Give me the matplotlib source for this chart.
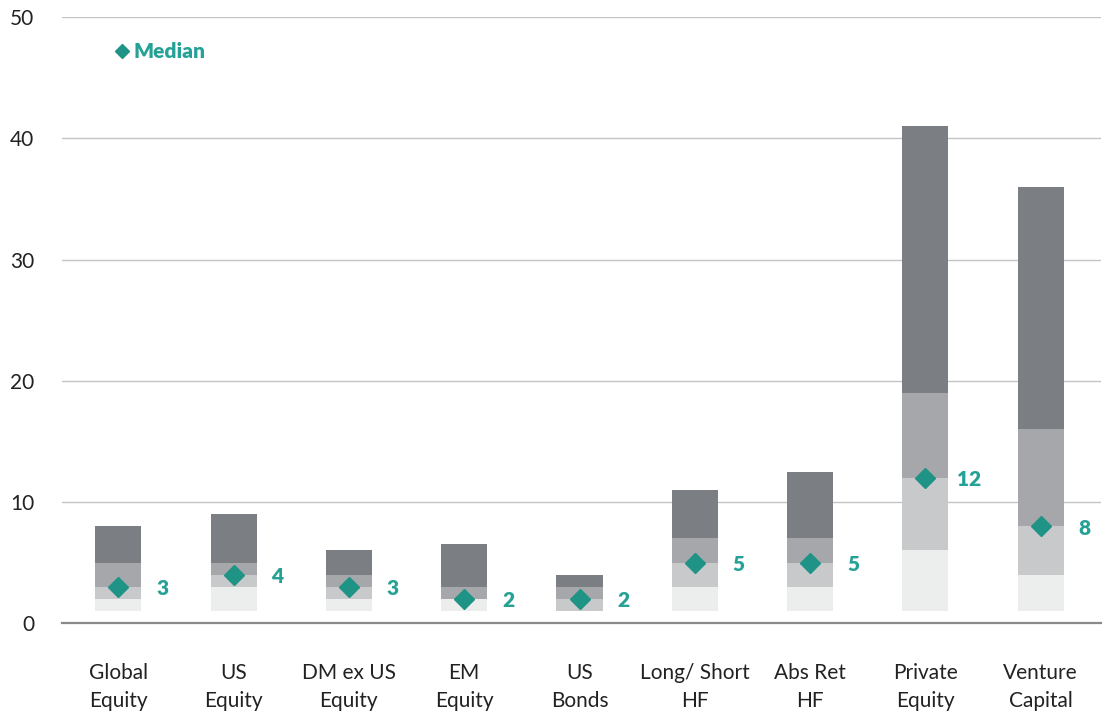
import numpy as np
import matplotlib.pyplot as plt

plt.rcParams['font.family'] = ['Lato', 'DejaVu Sans']

categories = ["Global\nEquity", "US\nEquity", "DM ex US\nEquity", "EM\nEquity", "US\nBonds",
              "Long/ Short\nHF", "Abs Ret\nHF", "Private\nEquity", "Venture\nCapital"]
low = [1, 1, 1, 1, 1, 1, 1, 1, 1]
p25 = [2, 3, 2, 2, 1, 3, 3, 6, 4]
median = [3, 4, 3, 2, 2, 5, 5, 12, 8]
p75 = [5, 5, 4, 3, 3, 7, 7, 19, 16]
high = [8, 9, 6, 6.5, 4, 11, 12.5, 41, 36]

teal = "#1f9385"
teal_text = "#26a196"
seg_colors = ["#eceeed", "#c8c9cb", "#a6a7aa", "#7b7e82"]

fig = plt.figure(figsize=(11.05, 7.13), dpi=100)
ax = fig.add_axes([0.056, 0.126, 0.94, 0.85])

x = np.arange(len(categories))
levels = [low, p25, median, p75, high]
for k in range(4):
    b = np.array(levels[k], dtype=float)
    t = np.array(levels[k + 1], dtype=float)
    ax.bar(x, t - b, bottom=b, width=0.4, color=seg_colors[k], zorder=2)

ax.plot(x, median, linestyle="none", marker="D", markersize=10, color=teal, zorder=3)
for xi, m in zip(x, median):
    ax.text(xi + 0.38, m - 0.15, str(m), color=teal_text, fontsize=15, fontweight="heavy",
            va="center", ha="center")

# legend
ax.plot([0.03], [47.2], linestyle="none", marker="D", markersize=7, color=teal,
        clip_on=False)
ax.text(0.13, 47.2, "Median", color=teal_text, fontsize=15, fontweight="heavy",
        va="center", ha="left")

ax.set_xlim(-0.49, 8.52)
ax.set_ylim(0, 50)
ax.set_yticks([0, 10, 20, 30, 40, 50])
ax.set_xticks(x)
ax.set_xticklabels(categories, fontsize=15, linespacing=1.5, color="#222222")
ax.tick_params(axis="y", length=0, pad=20, labelsize=15, labelcolor="#222222")
ax.tick_params(axis="x", length=0, pad=29)
ax.grid(axis="y", color="#c4c4c4", linewidth=1, zorder=0)
for s in ["left", "right", "top"]:
    ax.spines[s].set_visible(False)
ax.spines["bottom"].set_color("#8a8a8a")
ax.spines["bottom"].set_linewidth(1.6)
ax.spines["bottom"].set_zorder(4)

fig.savefig("out.png", dpi=100)
